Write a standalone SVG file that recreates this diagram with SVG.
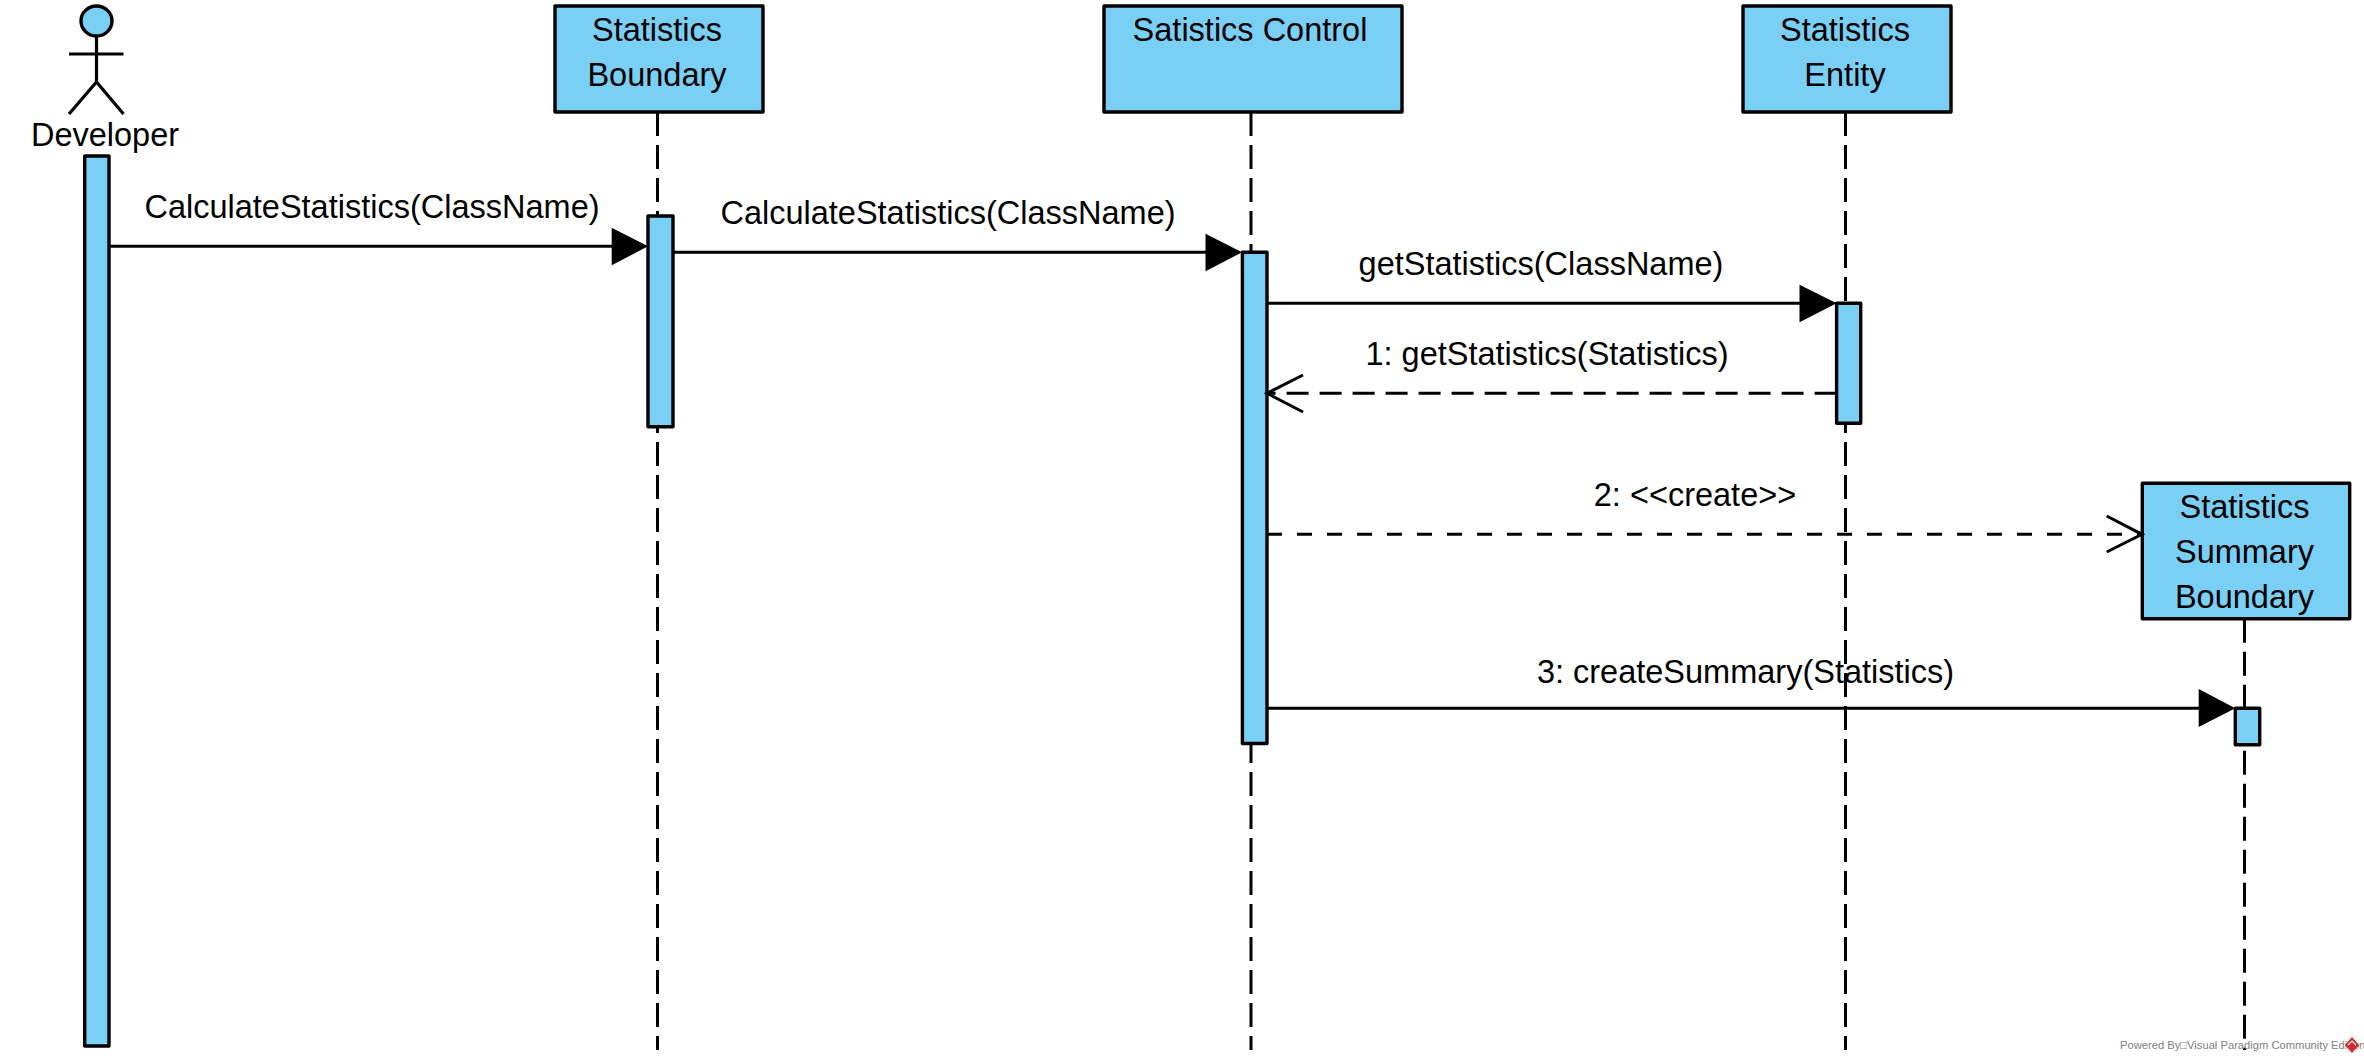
<svg xmlns="http://www.w3.org/2000/svg" width="2364" height="1062" viewBox="0 0 2364 1062">
<style>
text{font-family:"Liberation Sans",Arial,sans-serif;font-size:32.5px;fill:#000;text-anchor:middle}
.box{fill:#7acff5;stroke:#000;stroke-width:3.4;stroke-linejoin:round}
.life{fill:none;stroke:#000;stroke-width:3;stroke-dasharray:24 9}
.msg{fill:none;stroke:#000;stroke-width:3}
.ret{fill:none;stroke:#000;stroke-width:3;stroke-dasharray:22 11}
.crt{fill:none;stroke:#000;stroke-width:3;stroke-dasharray:15 15}
.tip{fill:#000;stroke:none}
.stick{fill:none;stroke:#000;stroke-width:3.2}
.foot{font-size:11.2px;fill:#808080;text-anchor:start}
</style>
<rect width="2364" height="1062" fill="#fff"/>
<g id="lifelines">
<path class="life" d="M657.5 112V1050"/>
<path class="life" d="M1251 112V1050"/>
<path class="life" d="M1845.5 112V1050"/>
<path class="life" d="M2244.5 618.7V1050"/>
</g>
<g id="node-developer">
<ellipse class="box" cx="96.5" cy="21" rx="15.5" ry="15"/>
<path class="stick" d="M96.5 36V82M69 54H123.5M69 114L96.5 82L123.5 114"/>
<text x="105" y="146">Developer</text>
<rect class="box" x="84.7" y="156" width="24.3" height="890"/>
</g>
<g id="node-statistics-boundary">
<rect class="box" x="555" y="6" width="208" height="106"/>
<text x="657" y="41">Statistics</text>
<text x="657" y="86">Boundary</text>
<rect class="box" x="648" y="216" width="25" height="210.7"/>
</g>
<g id="node-satistics-control">
<rect class="box" x="1104" y="6" width="298" height="106"/>
<text x="1250" y="41">Satistics Control</text>
<rect class="box" x="1242.4" y="252.3" width="24.6" height="491.2"/>
</g>
<g id="node-statistics-entity">
<rect class="box" x="1743" y="6" width="208" height="106"/>
<text x="1845" y="41">Statistics</text>
<text x="1845" y="86">Entity</text>
<rect class="box" x="1836.6" y="303.3" width="24.1" height="120"/>
</g>
<g id="node-statistics-summary-boundary">
<rect class="box" x="2142.3" y="483.3" width="207.4" height="135.4"/>
<text x="2244.5" y="518">Statistics</text>
<text x="2244.5" y="563">Summary</text>
<text x="2244.5" y="608">Boundary</text>
<rect class="box" x="2235.3" y="708.3" width="24.4" height="36.4"/>
</g>
<g id="connectors">
<path class="msg" d="M109 246.3H612"/><polygon class="tip" points="611.7,227.7 648,246.3 611.7,265.3"/>
<path class="msg" d="M673 252.3H1206"/><polygon class="tip" points="1205.5,233.7 1242,252.3 1205.5,271.3"/>
<path class="msg" d="M1267 303.3H1800"/><polygon class="tip" points="1799.5,284.7 1836.6,303.3 1799.5,322.3"/>
<path class="ret" d="M1836.6 393.3H1267"/><path class="msg" d="M1303 375L1267 393.3L1303 412"/>
<path class="crt" d="M1267 534.3H2142"/><path class="msg" d="M2106.7 516L2142 534.3L2106.7 552"/>
<path class="msg" d="M1267 708.3H2199"/><polygon class="tip" points="2198.7,689 2235.3,708.3 2198.7,727"/>
</g>
<g id="labels">
<text x="372" y="218">CalculateStatistics(ClassName)</text>
<text x="948" y="224">CalculateStatistics(ClassName)</text>
<text x="1541" y="275">getStatistics(ClassName)</text>
<text x="1547" y="365">1: getStatistics(Statistics)</text>
<text x="1695" y="506">2: &lt;&lt;create&gt;&gt;</text>
<text x="1745.5" y="683">3: createSummary(Statistics)</text>
</g>
<g id="footer">
<text class="foot" x="2120" y="1049">Powered By□Visual Paradigm Community Edition</text>
<polygon points="2352,1037 2359,1045 2352,1053 2345,1045" fill="#d8262c"/>
<path d="M2348 1045L2352 1041L2356 1045" fill="none" stroke="#fff" stroke-width="1.2"/>
</g>
</svg>
